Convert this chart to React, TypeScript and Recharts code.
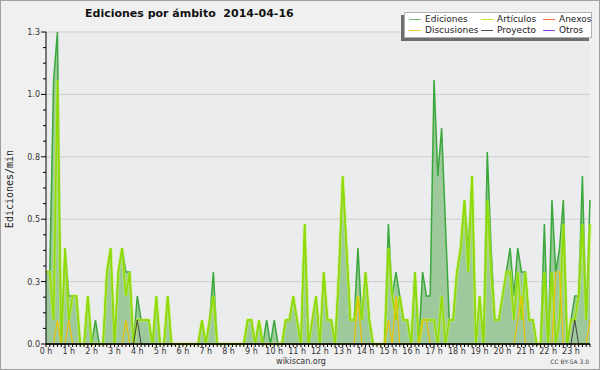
import React from "react";
import { ComposedChart, Area, Line, XAxis, YAxis, CartesianGrid } from "recharts";

// 10-minute bins, edits per minute
const hourLabels = [
  "0 h", "1 h", "2 h", "3 h", "4 h", "5 h", "6 h", "7 h", "8 h", "9 h", "10 h", "11 h",
  "12 h", "13 h", "14 h", "15 h", "16 h", "17 h", "18 h", "19 h", "20 h", "21 h", "22 h", "23 h",
];

const ediciones = [
  0.3, 0.3, 1.1, 1.3, 0, 0.4, 0.2, 0.2, 0.2, 0, 0, 0.2, // 0-2h
  0, 0.1, 0, 0, 0.3, 0.4, 0, 0.3, 0.4, 0.3, 0.3, 0, // 2-4h
  0.2, 0.1, 0.1, 0.1, 0, 0.2, 0, 0, 0.2, 0, 0, 0, // 4-6h
  0, 0, 0, 0, 0, 0.1, 0, 0.1, 0.3, 0, 0, 0, // 6-8h
  0, 0, 0, 0, 0, 0.1, 0.1, 0, 0.1, 0, 0.1, 0, // 8-10h
  0.1, 0, 0, 0.1, 0.1, 0.2, 0.1, 0, 0.5, 0, 0.1, 0.2, // 10-12h
  0, 0.3, 0.1, 0.1, 0, 0.3, 0.7, 0.4, 0.1, 0.1, 0.4, 0.1, // 12-14h
  0.3, 0.1, 0, 0, 0, 0, 0.5, 0.2, 0.3, 0.2, 0.1, 0.1, // 14-16h
  0, 0.3, 0, 0.3, 0.2, 0.2, 1.1, 0.7, 0.9, 0.5, 0.1, 0.1, // 16-18h
  0.3, 0.4, 0.6, 0.4, 0.7, 0, 0.2, 0, 0.8, 0.4, 0.1, 0.1, // 18-20h
  0.2, 0.3, 0.4, 0.2, 0.4, 0.3, 0.3, 0.1, 0.1, 0, 0, 0.5, // 20-22h
  0, 0.6, 0.3, 0.4, 0.6, 0, 0.1, 0.2, 0.2, 0.7, 0.1, 0.6, // 22-24h
];

const articulos = [
  0.3, 0.3, 0.1, 1.1, 0, 0.4, 0.1, 0.2, 0.2, 0, 0, 0.2,
  0, 0, 0, 0, 0.3, 0.4, 0, 0.3, 0.4, 0.2, 0.3, 0,
  0.1, 0.1, 0.1, 0.1, 0, 0.2, 0, 0, 0.2, 0, 0, 0,
  0, 0, 0, 0, 0, 0.1, 0, 0.1, 0.2, 0, 0, 0,
  0, 0, 0, 0, 0, 0.1, 0.1, 0, 0.1, 0, 0, 0,
  0, 0, 0, 0.1, 0.1, 0.2, 0.1, 0, 0.5, 0, 0.1, 0.2,
  0, 0.3, 0.1, 0.1, 0, 0.3, 0.7, 0.4, 0.1, 0.1, 0.2, 0.1,
  0.3, 0.1, 0, 0, 0, 0, 0.4, 0.2, 0.1, 0.2, 0.1, 0.1,
  0, 0.3, 0, 0.1, 0.1, 0.1, 0.1, 0, 0.2, 0, 0.1, 0.1,
  0.3, 0.4, 0.6, 0.3, 0.7, 0, 0.2, 0, 0.6, 0.3, 0.1, 0.1,
  0.2, 0.3, 0.3, 0.1, 0.3, 0.1, 0.3, 0.1, 0.1, 0, 0, 0.3,
  0, 0.3, 0, 0.1, 0.5, 0, 0.1, 0.1, 0.2, 0.5, 0.1, 0.5,
];

const discusiones = [
  0, 0, 0, 0.1, 0, 0, 0.1, 0, 0, 0, 0, 0,
  0, 0, 0, 0, 0, 0, 0, 0, 0, 0.1, 0, 0,
  0, 0, 0, 0, 0, 0, 0, 0, 0, 0, 0, 0,
  0, 0, 0, 0, 0, 0, 0, 0, 0, 0, 0, 0,
  0, 0, 0, 0, 0, 0, 0, 0, 0, 0, 0, 0,
  0, 0, 0, 0, 0, 0, 0, 0, 0, 0, 0, 0,
  0, 0, 0, 0, 0, 0, 0, 0, 0, 0, 0.2, 0,
  0, 0, 0, 0, 0, 0, 0.1, 0, 0.2, 0, 0, 0,
  0, 0, 0, 0.1, 0.1, 0, 0, 0, 0, 0, 0, 0,
  0, 0, 0, 0, 0, 0, 0, 0, 0, 0, 0, 0,
  0, 0, 0, 0, 0.1, 0.2, 0, 0, 0, 0, 0, 0,
  0, 0, 0.3, 0.3, 0, 0, 0, 0, 0, 0, 0, 0.1,
];

const proyecto = [
  0, 0, 0, 0, 0, 0, 0, 0, 0, 0, 0, 0,
  0, 0, 0, 0, 0, 0, 0, 0, 0, 0, 0, 0,
  0.1, 0, 0, 0, 0, 0, 0, 0, 0, 0, 0, 0,
  0, 0, 0, 0, 0, 0, 0, 0, 0, 0, 0, 0,
  0, 0, 0, 0, 0, 0, 0, 0, 0, 0, 0, 0,
  0, 0, 0, 0, 0, 0, 0, 0, 0, 0, 0, 0,
  0, 0, 0, 0, 0, 0, 0, 0, 0, 0, 0, 0,
  0, 0, 0, 0, 0, 0, 0, 0, 0, 0, 0, 0,
  0, 0, 0, 0, 0, 0, 0, 0, 0, 0, 0, 0,
  0, 0, 0, 0, 0, 0, 0, 0, 0, 0, 0, 0,
  0, 0, 0, 0, 0, 0, 0, 0, 0, 0, 0, 0,
  0, 0, 0, 0, 0, 0, 0, 0.1, 0, 0, 0, 0,
];

const legendItems = [
  { name: "Ediciones", color: "#70c070" },
  { name: "Artículos", color: "#bce83a" },
  { name: "Anexos", color: "#f07040" },
  { name: "Discusiones", color: "#f5c832" },
  { name: "Proyecto", color: "#505050" },
  { name: "Otros", color: "#8a3ae0" },
];

const yMax = 1.3;
const yMajorTicks = [0, 0.26, 0.52, 0.78, 1.04, 1.3];
// 4 minor steps per major step
const yTicks = Array.from({ length: 21 }, (_, k) => (k * 13) / 200);

const data = ediciones.map((v, i) => ({
  t: i,
  ediciones: v,
  articulos: articulos[i],
  discusiones: discusiones[i],
  proyecto: proyecto[i],
}));
const xTicks = data.map((d) => d.t);

const FONT = "DejaVu Sans";

function YTick(props: any) {
  const { x, y, payload, index } = props;
  const major = index % 4 === 0;
  return (
    <g>
      <line x1={x + (major ? 0 : 2)} x2={x + 5} y1={y} y2={y} stroke="#000" />
      {major && (
        <text x={x - 1} y={y} dy={3} textAnchor="end" fontSize={8} fill="#333" fontFamily={FONT}>
          {payload.value.toFixed(1)}
        </text>
      )}
    </g>
  );
}

function Legend() {
  const cols = [4, 76, 138];
  return (
    <div
      style={{
        position: "absolute",
        left: 404,
        top: 12,
        width: 188,
        height: 26,
        background: "#fff",
        border: "1px solid #b0b0b0",
        boxSizing: "border-box",
        boxShadow: "-3px 3px 0 #6e6e6e",
        fontFamily: FONT,
        fontSize: 9,
        color: "#222",
      }}
    >
      {legendItems.map((it, i) => {
        const row = Math.floor(i / 3);
        const col = i % 3;
        return (
          <div
            key={it.name}
            style={{
              position: "absolute",
              left: cols[col],
              top: 1 + row * 11,
              height: 10,
              lineHeight: "10px",
              display: "flex",
              alignItems: "center",
              whiteSpace: "nowrap",
            }}
          >
            <span style={{ display: "inline-block", width: 12, height: 1, background: it.color, marginRight: 4 }} />
            {it.name}
          </div>
        );
      })}
    </div>
  );
}

export default function App() {
  return (
    <div
      style={{
        position: "fixed",
        left: 0,
        top: 0,
        width: 600,
        height: 370,
        background: "#f0f0f0",
        overflow: "hidden",
      }}
    >
      <ComposedChart
        width={600}
        height={370}
        data={data}
        margin={{ top: 32, right: 10, bottom: 0, left: 0 }}
        style={{ fontFamily: FONT }}
      >
        <CartesianGrid
          vertical={false}
          horizontalValues={yMajorTicks}
          stroke="#cdcdcd"
          fill="#ebecee"
          fillOpacity={1}
        />
        <XAxis
          dataKey="t"
          type="number"
          domain={[0, xTicks.length - 1]}
          ticks={xTicks}
          interval={0}
          height={26}
          tickSize={3}
          tickMargin={1}
          axisLine={{ stroke: "#000", strokeWidth: 1.5 }}
          tickLine={{ stroke: "#000" }}
          tick={{ fontSize: 8, fill: "#333", fontFamily: FONT }}
          tickFormatter={(t: number) => (t % 6 === 0 ? hourLabels[t / 6] : "")}
        />
        <YAxis
          type="number"
          domain={[0, yMax]}
          ticks={yTicks}
          interval={0}
          width={46}
          tickSize={5}
          tickMargin={0}
          tickLine={false}
          axisLine={{ stroke: "#000" }}
          tick={YTick}
        />
        <Area
          type="linear"
          dataKey="ediciones"
          stroke="#3aa83a"
          strokeWidth={1.5}
          fill="#9dc99d"
          fillOpacity={1}
          dot={false}
          activeDot={false}
          isAnimationActive={false}
        />
        <Line
          type="linear"
          dataKey="articulos"
          stroke="#c4ee55"
          strokeWidth={3.5}
          strokeOpacity={0.55}
          dot={false}
          activeDot={false}
          isAnimationActive={false}
        />
        <Line
          type="linear"
          dataKey="articulos"
          stroke="#8fdc00"
          strokeWidth={1.5}
          dot={false}
          activeDot={false}
          isAnimationActive={false}
        />
        <Line
          type="linear"
          dataKey="discusiones"
          stroke="#f2c200"
          strokeWidth={1.2}
          dot={false}
          activeDot={false}
          isAnimationActive={false}
        />
        <Line
          type="linear"
          dataKey="proyecto"
          stroke="#444"
          strokeWidth={1}
          dot={false}
          activeDot={false}
          isAnimationActive={false}
        />
      </ComposedChart>

      <div
        style={{
          position: "absolute",
          left: 85,
          top: 7,
          fontFamily: FONT,
          fontWeight: "bold",
          fontSize: 11,
          lineHeight: "13px",
          whiteSpace: "pre",
          color: "#111",
        }}
      >
        {"Ediciones por ámbito  2014-04-16"}
      </div>

      <div
        style={{
          position: "absolute",
          left: 10,
          top: 189,
          transform: "translate(-50%, -50%) rotate(-90deg)",
          fontFamily: "DejaVu Sans Mono",
          fontSize: 10,
          lineHeight: "10px",
          whiteSpace: "nowrap",
          color: "#222",
        }}
      >
        Ediciones/min
      </div>

      <div
        style={{
          position: "absolute",
          left: 301,
          top: 361,
          transform: "translate(-50%, -50%)",
          fontFamily: FONT,
          fontSize: 8,
          lineHeight: "9px",
          color: "#333",
          whiteSpace: "nowrap",
        }}
      >
        wikiscan.org
      </div>
      <div
        style={{
          position: "absolute",
          right: 11,
          top: 358,
          fontFamily: FONT,
          fontSize: 6,
          lineHeight: "8px",
          color: "#444",
          whiteSpace: "nowrap",
        }}
      >
        CC BY-SA 3.0
      </div>

      <Legend />

      <div
        style={{
          position: "absolute",
          left: 0,
          top: 0,
          width: 600,
          height: 370,
          border: "1px solid #a0a0a0",
          boxSizing: "border-box",
          pointerEvents: "none",
        }}
      />
    </div>
  );
}
